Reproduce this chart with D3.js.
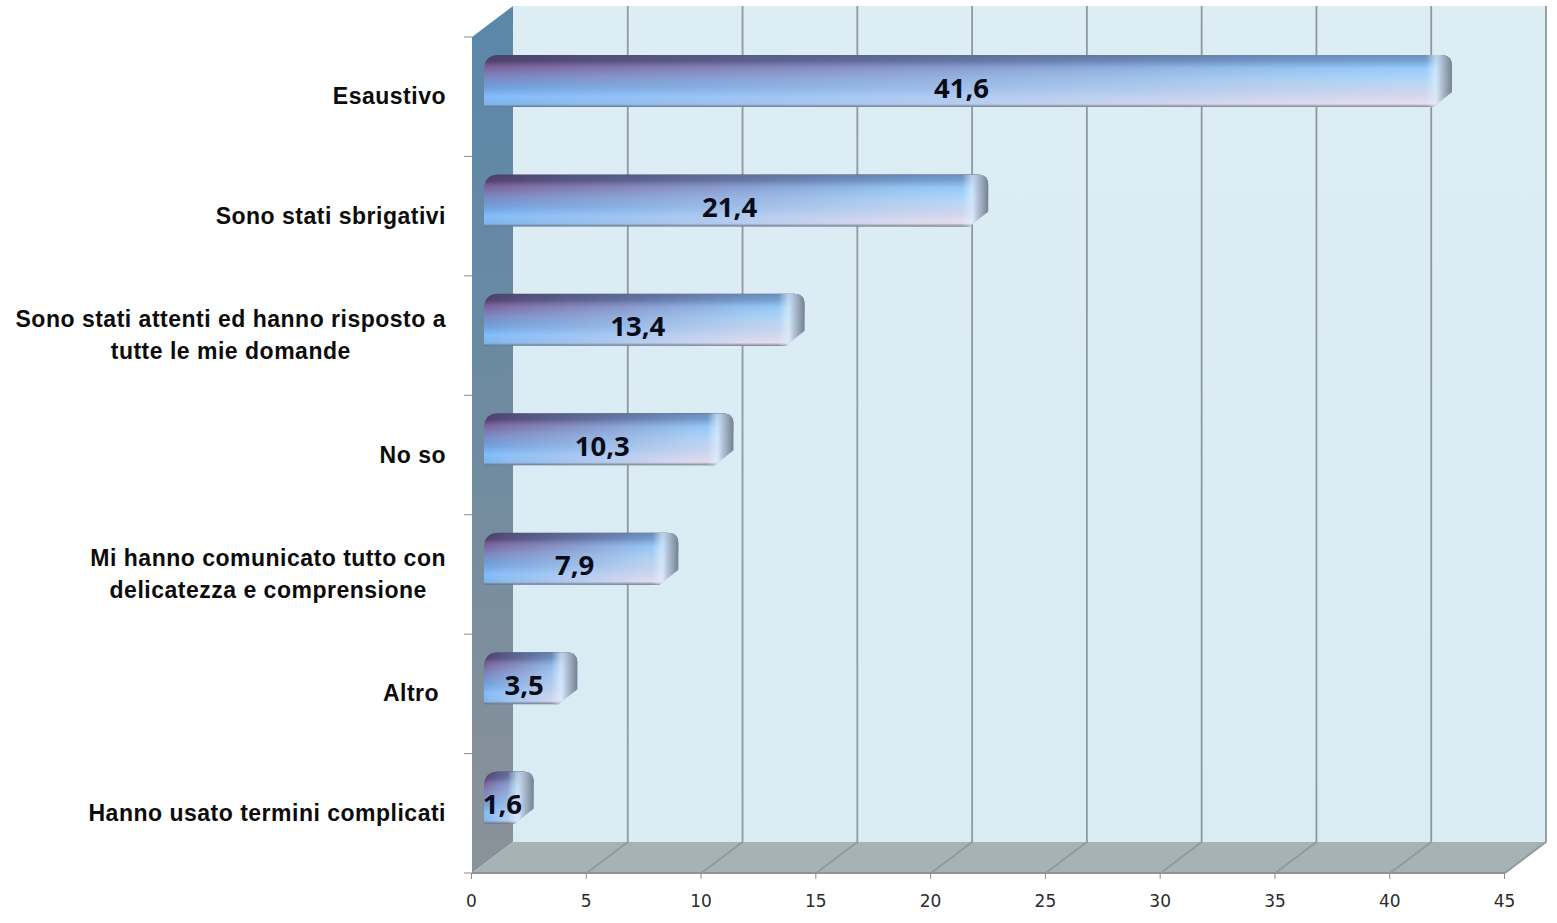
<!DOCTYPE html>
<html><head><meta charset="utf-8">
<script src="https://cdn.jsdelivr.net/npm/d3@7"></script>
<style>html,body{margin:0;padding:0;background:#fff}svg{display:block}</style>
</head><body><svg id="c" width="1557" height="923"></svg>
<script>
const categories=[["Esaustivo"],["Sono stati sbrigativi"],["Sono stati attenti ed hanno risposto a","tutte le mie domande"],["No so"],["Mi hanno comunicato tutto con","delicatezza e comprensione"],["Altro "],["Hanno usato termini complicati"]];
const values=[41.6,21.4,13.4,10.3,7.9,3.5,1.6];
const ticks=[0,5,10,15,20,25,30,35,40,45];

const svg=d3.select("#c");
const x=d3.scaleLinear().domain([0,45]).range([472,1505]);
const y=d3.scaleBand().domain(d3.range(categories.length)).range([37,873]);
const dx=41,dy=-31;
const barInset=12,barTop=18,barH=52,tipW=13;
const defs=svg.append("defs");
function grad(id,stops,dir){
  const g=defs.append("linearGradient").attr("id",id);
  if(dir==="h")g.attr("x1",0).attr("x2",1).attr("y1",0).attr("y2",0);
  else g.attr("x1",0).attr("x2",0).attr("y1",0).attr("y2",1);
  stops.forEach(s=>g.append("stop").attr("offset",s[0]).attr("stop-color",s[1]).attr("stop-opacity",s[2]===undefined?1:s[2]));
}
grad("wall",[[0,"#5a87a9"],[.5,"#6f8ba0"],[1,"#8b9299"]],"v");
grad("back",[[0,"#dcedf4"],[1,"#d9ebf3"]],"v");
grad("left",[[0,"#4b3f68"],[.12,"#50426f"],[.22,"#7b5f96"],[.42,"#7c86bf"],[.62,"#6f9fdc"],[.8,"#82bdfb"],[.95,"#80b4ea"],[1,"#5f7288"]],"v");
grad("right",[[0,"#6d93bd"],[.1,"#75a2d2"],[.26,"#97cffd"],[.5,"#b6d8f6"],[.75,"#d2d6ec"],[.94,"#e8dfee"],[1,"#85858f"]],"v");
grad("fade",[[0,"#000"],[.1,"#262626"],[.5,"#8c8c8c"],[.82,"#e0e0e0"],[1,"#fff"]],"h");
grad("cap",[[0,"#e4f3ff",0],[.38,"#dceefc",.7],[.58,"#b4c2d6",.92],[1,"#74808e",1]],"h");
defs.append("filter").attr("id","soft").append("feGaussianBlur").attr("stdDeviation",.7);
defs.append("mask").attr("id","fm").attr("maskContentUnits","objectBoundingBox")
  .append("rect").attr("width",1).attr("height",1).attr("fill","url(#fade)");

const yTop=y.range()[0],yBot=y.range()[1],x0=x(0),x1=x(45);
const plot=svg.append("g").attr("filter","url(#soft)");
plot.append("rect").attr("x",x0+dx).attr("y",yTop+dy).attr("width",x1-x0).attr("height",yBot-yTop+1).attr("fill","url(#back)");
plot.append("path").attr("d",d3.line()([[x0,yTop],[x0+dx,yTop+dy],[x0+dx,yBot+dy],[x0,yBot]])+"Z").attr("fill","url(#wall)");
plot.append("path").attr("d",d3.line()([[x0,yBot],[x0+dx,yBot+dy],[x1+dx,yBot+dy],[x1,yBot]])+"Z").attr("fill","#a6b3b5");
plot.append("path").attr("d",d3.line()([[x0,yBot],[x1,yBot]])).attr("stroke","#8c9496").attr("stroke-width",2).attr("fill","none");
ticks.slice(1).forEach(t=>{
  plot.append("path").attr("d",d3.line()([[x(t),yBot],[x(t)+dx,yBot+dy],[x(t)+dx,yTop+dy]])).attr("fill","none").attr("stroke","#8f9a9e").attr("stroke-width",1.8);
});
d3.range(categories.length+1).forEach(i=>{
  const v=i===categories.length?yBot:y(i);
  svg.append("line").attr("x1",x0-8).attr("x2",x0).attr("y1",v).attr("y2",v).attr("stroke","#8c8c8c").attr("stroke-width",1);
});
const ax=svg.append("g").attr("transform",`translate(-1,${yBot})`).call(d3.axisBottom(x).tickValues(ticks).tickSize(6).tickPadding(16).tickFormat(d3.format("d")));
ax.select(".domain").remove();
ax.selectAll("line").attr("stroke","#8c8c8c");
ax.selectAll("text").attr("font-family","'DejaVu Sans'").attr("font-size",17).attr("fill","#2b2b2b");
values.forEach((v,i)=>{
  const g=plot.append("g");
  const bx=x0+barInset,by=y(i)+barTop,bw=x(v)-x0,end=bx+bw,tip=end+tipW;
  const shape=`M${bx},${by+barH}V${by+12}Q${bx+2},${by} ${bx+14},${by}H${tip-11}Q${tip},${by} ${tip},${by+11}V${by+barH-15}L${end-6},${by+barH}Z`;
  defs.append("clipPath").attr("id","bar"+i).append("path").attr("d",shape);
  g.append("path").attr("d",shape).attr("fill","url(#left)");
  g.append("path").attr("d",shape).attr("fill","url(#right)").attr("mask","url(#fm)");
  g.append("rect").attr("x",end-13).attr("y",by).attr("width",tip-end+13).attr("height",barH).attr("fill","url(#cap)").attr("clip-path",`url(#bar${i})`);
});
values.forEach((v,i)=>{
  const bx=x0+barInset,by=y(i)+barTop,bw=x(v)-x0;
  svg.append("text").attr("x",bx+bw/2).attr("y",by+barH/2+16.5).attr("text-anchor","middle")
   .attr("font-family","'Open Sans'").attr("font-weight",700).attr("font-size",27.5).attr("fill","#0b0b18").text(d3.format(".1f")(v).replace(".",","));
});
categories.forEach((lines,i)=>{
  const c=y(i)+y.bandwidth()/2;
  const t=svg.append("text").attr("text-anchor","middle").attr("font-family","'Liberation Sans'").attr("font-weight",700).attr("font-size",23).attr("letter-spacing",.5).attr("fill","#0c0c0c").style("white-space","pre");
  lines.forEach((l,k)=>t.append("tspan").attr("x",0).attr("dy",k?32:0).text(l));
  const bb=t.node().getBBox();
  t.attr("transform",`translate(${446-bb.width/2},${c+7.5-(lines.length-1)*16})`);
});
</script></body></html>
